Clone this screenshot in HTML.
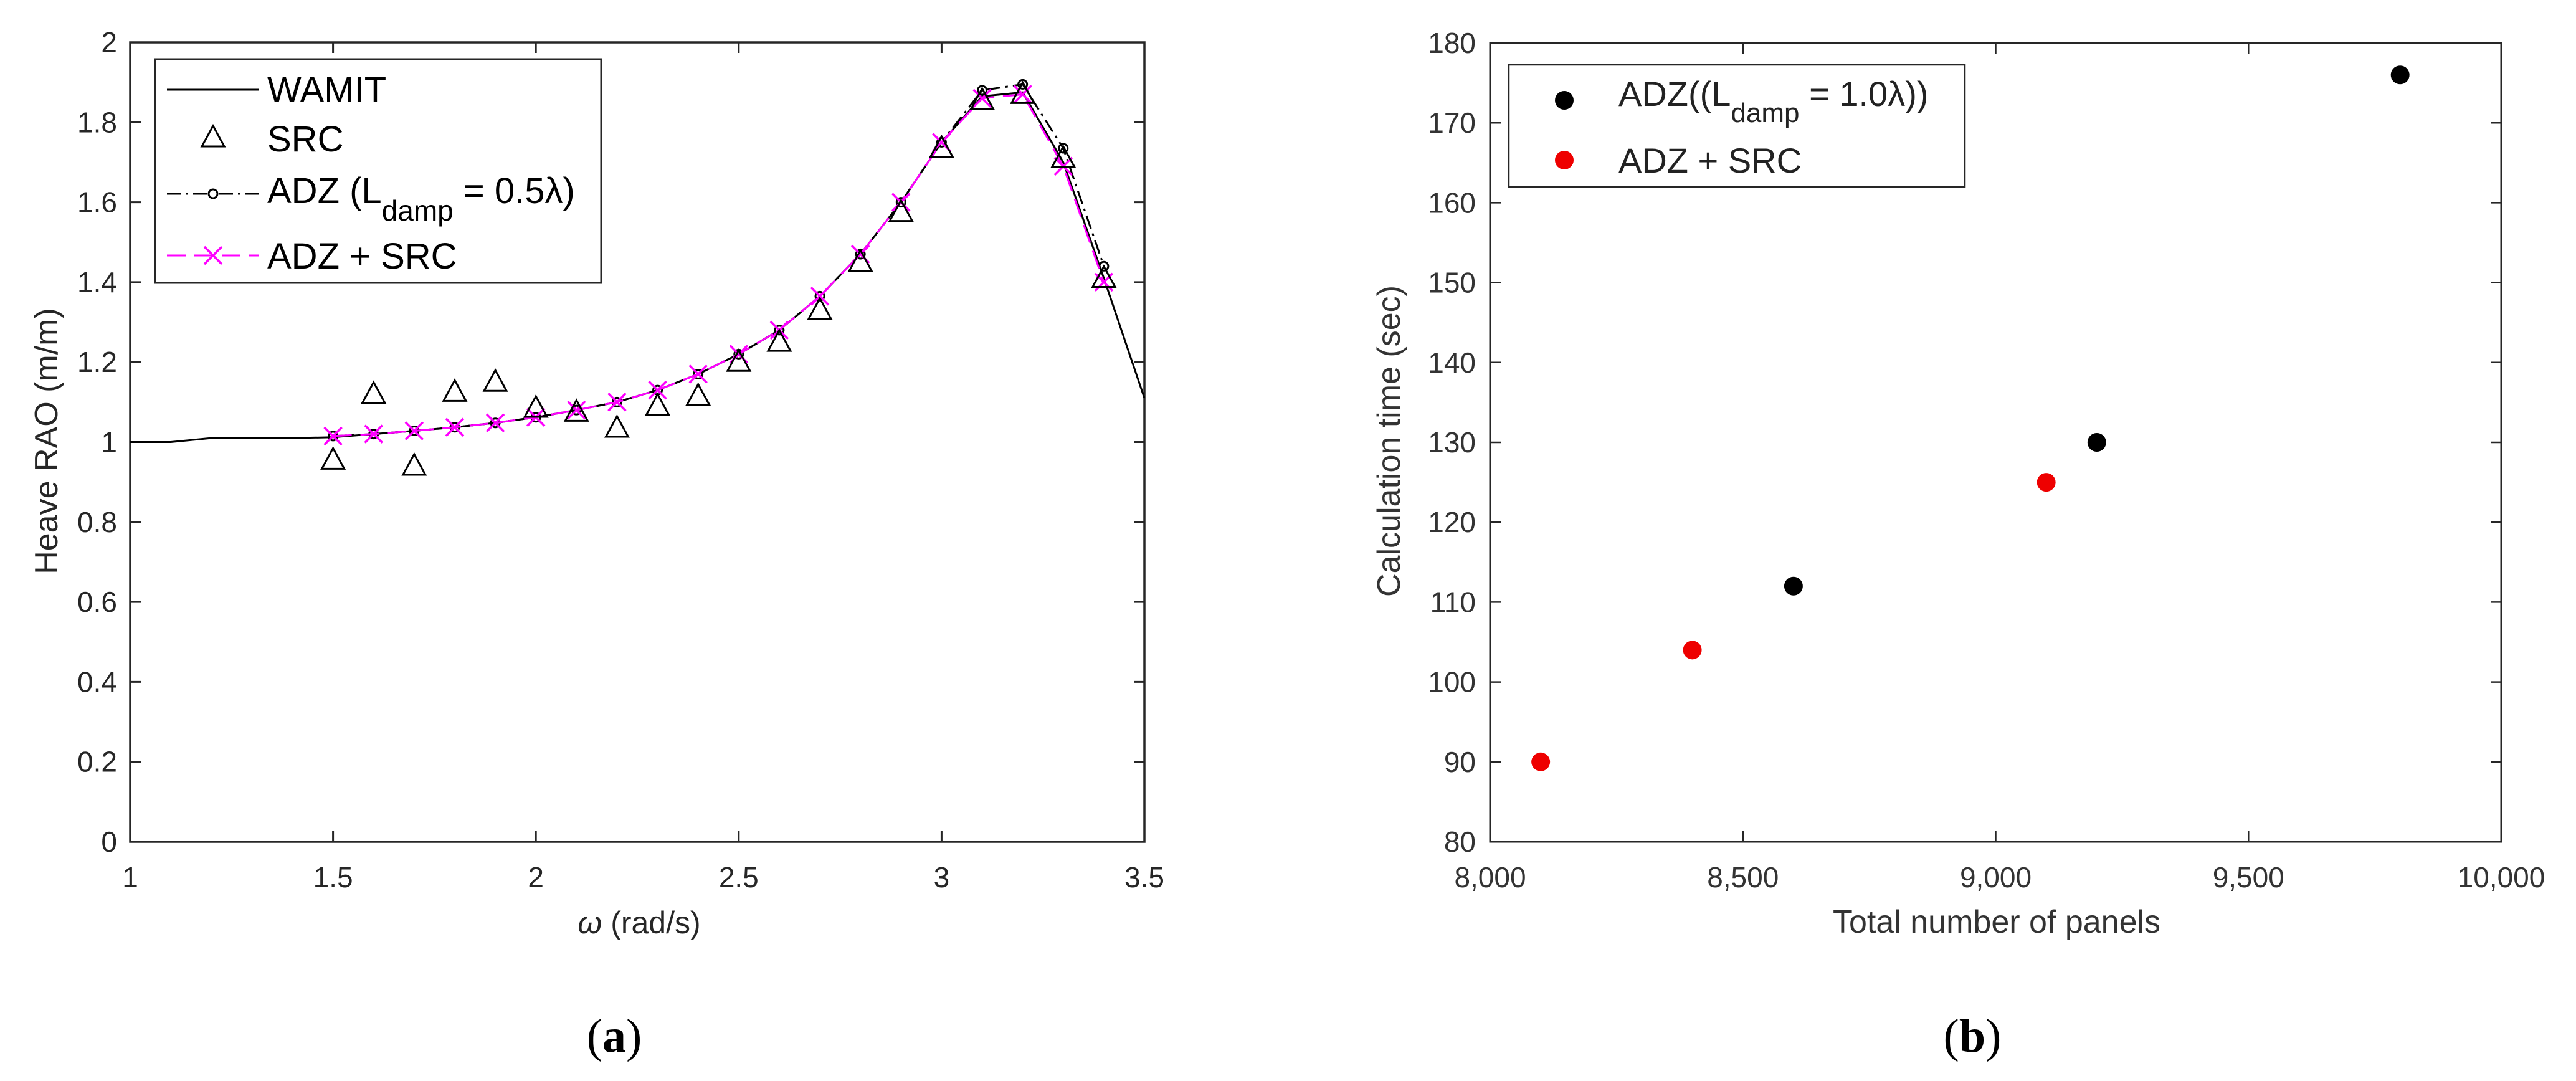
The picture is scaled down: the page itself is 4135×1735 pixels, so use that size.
<!DOCTYPE html>
<html><head><meta charset="utf-8"><style>
html,body{margin:0;padding:0;background:#fff;}
svg{display:block;font-family:"Liberation Sans",Arial,sans-serif;}
</style></head><body>
<svg id="fig" width="4135" height="1735" viewBox="0 0 4135 1735" xmlns="http://www.w3.org/2000/svg">
<rect width="4135" height="1735" fill="#fff"/>
<g id="chartA"></g>
<g id="chartB"></g>
</svg>
<script>
// ---- Chart (a) data ----
const omegaAdz = [1.5,1.6,1.7,1.8,1.9,2.0,2.1,2.2,2.3,2.4,2.5,2.6,2.7,2.8,2.9,3.0,3.1,3.2,3.3,3.4];
const adzSrcVals = [1.015,1.02,1.028,1.037,1.048,1.062,1.08,1.10,1.13,1.17,1.22,1.28,1.365,1.47,1.60,1.75,1.86,1.87,1.69,1.40];
const adzHalfVals = [1.015,1.02,1.028,1.037,1.048,1.062,1.08,1.10,1.13,1.17,1.22,1.28,1.365,1.47,1.60,1.75,1.88,1.895,1.735,1.44];
const srcVals = [0.955,1.12,0.94,1.125,1.15,1.085,1.075,1.035,1.09,1.115,1.20,1.25,1.33,1.45,1.575,1.735,1.855,1.87,1.71,1.41];
const omegaWamit = [1.0,1.1,1.2,1.3,1.4,1.5,1.6,1.7,1.8,1.9,2.0,2.1,2.2,2.3,2.4,2.5,2.6,2.7,2.8,2.9,3.0,3.1,3.2,3.3,3.4,3.5];
const wamitVals = [1.0,1.0,1.01,1.01,1.01,1.012,1.02,1.028,1.037,1.048,1.062,1.08,1.10,1.13,1.17,1.22,1.28,1.365,1.47,1.60,1.75,1.865,1.875,1.70,1.41,1.11];
const xTicksA = [1,1.5,2,2.5,3,3.5];
const yTicksA = [0,0.2,0.4,0.6,0.8,1,1.2,1.4,1.6,1.8,2];
const xTickLabelsA = ["1","1.5","2","2.5","3","3.5"];
const yTickLabelsA = ["0","0.2","0.4","0.6","0.8","1","1.2","1.4","1.6","1.8","2"];
// ---- Chart (b) data ----
const panelsAdz = [8600,9200,9800];
const timeAdz = [112,130,176];
const panelsAdzSrc = [8100,8400,9100];
const timeAdzSrc = [90,104,125];
const xTicksB = [8000,8500,9000,9500,10000];
const xTickLabelsB = ["8,000","8,500","9,000","9,500","10,000"];
const yTicksB = [80,90,100,110,120,130,140,150,160,170,180];
const yTickLabelsB = ["80","90","100","110","120","130","140","150","160","170","180"];

const NS="http://www.w3.org/2000/svg";
function mk(parent,tag,attrs,text){const e=document.createElementNS(NS,tag);for(const k in attrs)e.setAttribute(k,attrs[k]);if(text!==undefined)e.textContent=text;parent.appendChild(e);return e;}

// ===== Chart A =====
const A=document.getElementById('chartA');
const aL=209,aR=1837,aT=68,aB=1351;
const xA=v=>aL+(v-1)/2.5*(aR-aL);
const yA=v=>aB-v/2*(aB-aT);
let g;
g=mk(A,'g',{});


xTicksA.forEach((t,i)=>{
  mk(g,'line',{x1:xA(t),x2:xA(t),y1:aB,y2:aB-17,stroke:'#262626','stroke-width':3});
  mk(g,'line',{x1:xA(t),x2:xA(t),y1:aT,y2:aT+17,stroke:'#262626','stroke-width':3});
  const tx=mk(g,'text',{x:xA(t),y:1424,'font-size':46,'text-anchor':'middle',fill:'#262626'},xTickLabelsA[i]);
  
  
});
g=mk(A,'g',{});


yTicksA.forEach((t,i)=>{
  mk(g,'line',{x1:aL,x2:aL+17,y1:yA(t),y2:yA(t),stroke:'#262626','stroke-width':3});
  mk(g,'line',{x1:aR,x2:aR-17,y1:yA(t),y2:yA(t),stroke:'#262626','stroke-width':3});
  const tx=mk(g,'text',{x:188,y:yA(t)+16,'font-size':46,'text-anchor':'end',fill:'#262626'},yTickLabelsA[i]);
  
  
});
mk(A,'rect',{x:aL,y:aT,width:aR-aL,height:aB-aT,fill:'none',stroke:'#262626','stroke-width':3.5});
let t=mk(A,'text',{x:0,y:0,'font-size':52,'text-anchor':'middle',fill:'#262626',transform:'translate(92,708) rotate(-90)'},'Heave RAO (m/m)');


t=mk(A,'text',{x:1026,y:1498,'font-size':50,'text-anchor':'middle',fill:'#262626'});


mk(t,'tspan',{'font-style':'italic'},'ω');mk(t,'tspan',{},' (rad/s)');

function pts(xs,ys){return xs.map((x,i)=>xA(x)+','+yA(ys[i])).join(' ');}
// WAMIT
let s=mk(A,'polyline',{points:pts(omegaWamit,wamitVals),fill:'none',stroke:'#000','stroke-width':3});


// ADZ 0.5
s=mk(A,'polyline',{points:pts(omegaAdz,adzHalfVals),fill:'none',stroke:'#000','stroke-width':3,'stroke-dasharray':'22,8,4,8'});


omegaAdz.forEach((x,i)=>{
  const c=mk(A,'circle',{cx:xA(x),cy:yA(adzHalfVals[i]),r:7,fill:'none',stroke:'#000','stroke-width':3});
  
  
});
// ADZ+SRC
s=mk(A,'polyline',{points:pts(omegaAdz,adzSrcVals),fill:'none',stroke:'#ff00ff','stroke-width':3,'stroke-dasharray':'30,14'});


omegaAdz.forEach((x,i)=>{
  const cx=xA(x),cy=yA(adzSrcVals[i]),d=14;
  const p=mk(A,'path',{d:`M${cx-d},${cy-d}L${cx+d},${cy+d}M${cx-d},${cy+d}L${cx+d},${cy-d}`,stroke:'#ff00ff','stroke-width':3.5,fill:'none'});
  
  
});
// SRC triangles
omegaAdz.forEach((x,i)=>{
  const cx=xA(x),cy=yA(srcVals[i]);
  const p=mk(A,'path',{d:`M${cx},${cy-19}L${cx+18},${cy+14}L${cx-18},${cy+14}Z`,stroke:'#000','stroke-width':3,fill:'none'});
  
  
});
// Legend A
g=mk(A,'g',{});


mk(g,'rect',{x:249,y:95,width:716,height:359,fill:'#fff',stroke:'#262626','stroke-width':3});
mk(g,'line',{x1:268,x2:416,y1:144,y2:144,stroke:'#000','stroke-width':3});
mk(g,'text',{x:429,y:164,'font-size':58,fill:'#000'},'WAMIT');
mk(g,'path',{d:'M342,202L360,235L324,235Z',stroke:'#000','stroke-width':3,fill:'none'});
mk(g,'text',{x:429,y:243,'font-size':58,fill:'#000'},'SRC');
mk(g,'line',{x1:268,x2:416,y1:311,y2:311,stroke:'#000','stroke-width':3,'stroke-dasharray':'22,8,4,8'});
mk(g,'circle',{cx:342,cy:311,r:7,fill:'#fff',stroke:'#000','stroke-width':3});
let lt=mk(g,'text',{x:429,y:326,'font-size':58,fill:'#000'});
mk(lt,'tspan',{},'ADZ (L');mk(lt,'tspan',{dy:28,'font-size':46},'damp');mk(lt,'tspan',{dy:-28},' = 0.5λ)');
mk(g,'line',{x1:268,x2:416,y1:410,y2:410,stroke:'#ff00ff','stroke-width':3,'stroke-dasharray':'30,14'});
mk(g,'path',{d:'M328,396L356,424M328,424L356,396',stroke:'#ff00ff','stroke-width':3.5});
mk(g,'text',{x:429,y:431,'font-size':58,fill:'#000'},'ADZ + SRC');
t=mk(A,'text',{x:986,y:1688,'font-size':76,'text-anchor':'middle',fill:'#000','font-family':'Liberation Serif, serif'});


mk(t,'tspan',{},'(');mk(t,'tspan',{'font-weight':'bold'},'a');mk(t,'tspan',{},')');

// ===== Chart B =====
const B=document.getElementById('chartB');
const bL=2392,bR=4015,bT=69,bB=1351;
const xB=v=>bL+(v-8000)/2000*(bR-bL);
const yB=v=>bB-(v-80)/100*(bB-bT);
g=mk(B,'g',{});


xTicksB.forEach((tk,i)=>{
  mk(g,'line',{x1:xB(tk),x2:xB(tk),y1:bB,y2:bB-17,stroke:'#262626','stroke-width':2.5});
  mk(g,'line',{x1:xB(tk),x2:xB(tk),y1:bT,y2:bT+17,stroke:'#262626','stroke-width':2.5});
  const tx=mk(g,'text',{x:xB(tk),y:1424,'font-size':46,'text-anchor':'middle',fill:'#333'},xTickLabelsB[i]);
  
  
});
g=mk(B,'g',{});


yTicksB.forEach((tk,i)=>{
  mk(g,'line',{x1:bL,x2:bL+17,y1:yB(tk),y2:yB(tk),stroke:'#262626','stroke-width':2.5});
  mk(g,'line',{x1:bR,x2:bR-17,y1:yB(tk),y2:yB(tk),stroke:'#262626','stroke-width':2.5});
  const tx=mk(g,'text',{x:2369,y:yB(tk)+16,'font-size':46,'text-anchor':'end',fill:'#333'},yTickLabelsB[i]);
  
  
});
mk(B,'rect',{x:bL,y:bT,width:bR-bL,height:bB-bT,fill:'none',stroke:'#262626','stroke-width':3});
t=mk(B,'text',{x:0,y:0,'font-size':52,'text-anchor':'middle',fill:'#333',transform:'translate(2247,708) rotate(-90)'},'Calculation time (sec)');


t=mk(B,'text',{x:3205,y:1497,'font-size':52,'text-anchor':'middle',fill:'#333'},'Total number of panels');


panelsAdz.forEach((x,i)=>{
  const c=mk(B,'circle',{cx:xB(x),cy:yB(timeAdz[i]),r:15,fill:'#000'});
  
  
});
panelsAdzSrc.forEach((x,i)=>{
  const c=mk(B,'circle',{cx:xB(x),cy:yB(timeAdzSrc[i]),r:15,fill:'#ee0000'});
  
  
});
g=mk(B,'g',{});


mk(g,'rect',{x:2422,y:104,width:732,height:196,fill:'#fff',stroke:'#262626','stroke-width':2.5});
mk(g,'circle',{cx:2511,cy:161,r:15,fill:'#000'});
lt=mk(g,'text',{x:2598,y:170,'font-size':56,fill:'#222'});
mk(lt,'tspan',{},'ADZ((L');mk(lt,'tspan',{dy:26,'font-size':44},'damp');mk(lt,'tspan',{dy:-26},' = 1.0λ))');
mk(g,'circle',{cx:2511,cy:257,r:15,fill:'#ee0000'});
mk(g,'text',{x:2598,y:277,'font-size':56,fill:'#222'},'ADZ + SRC');
t=mk(B,'text',{x:3166,y:1688,'font-size':76,'text-anchor':'middle',fill:'#000','font-family':'Liberation Serif, serif'});


mk(t,'tspan',{},'(');mk(t,'tspan',{'font-weight':'bold'},'b');mk(t,'tspan',{},')');
</script>
</body></html>
